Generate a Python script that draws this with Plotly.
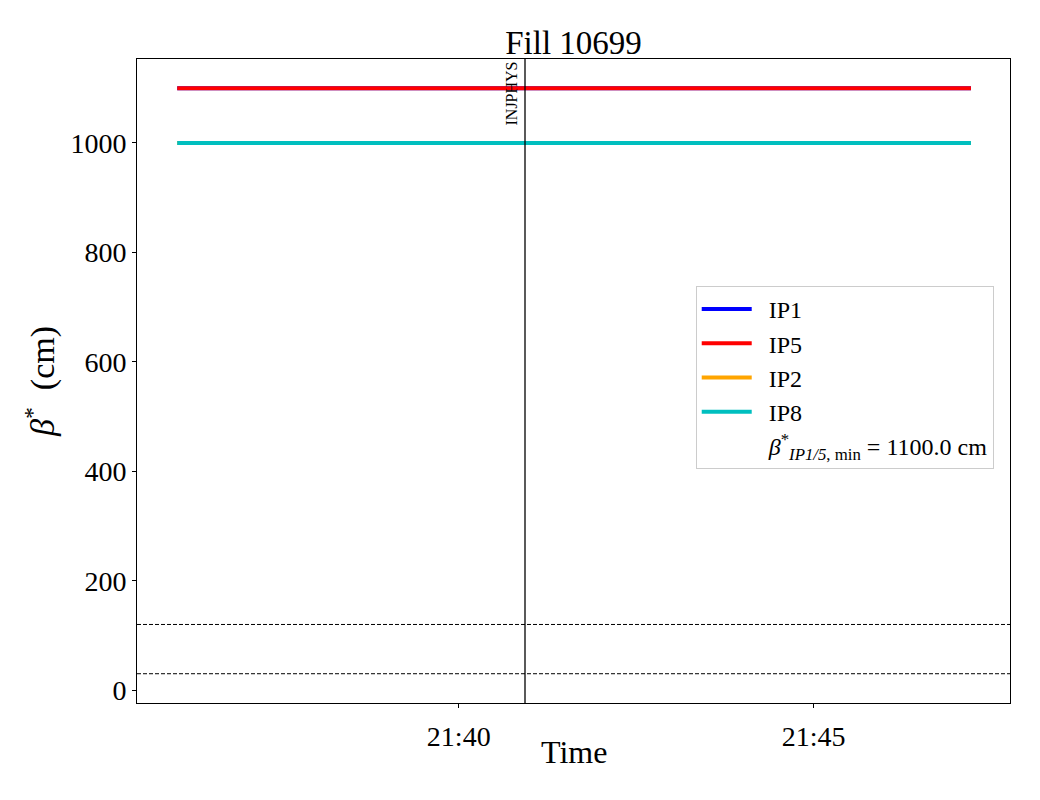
import plotly.graph_objects as go

# Data
times = ["2025-06-01 21:36:02", "2025-06-01 21:47:13"]
ip1 = [1100, 1100]
ip5 = [1100, 1100]
ip2 = [1000, 1000]
ip8 = [1000, 1000]
series_names = ["IP1", "IP5", "IP2", "IP8"]
series_values = [ip1, ip5, ip2, ip8]
series_colors = ["#0000ff", "#ff0000", "#ffa500", "#00bfbf"]
hlines = [120, 30]
mode_time = "2025-06-01 21:40:56"
mode_label = "INJPHYS"
xrange_ = ["2025-06-01 21:35:28", "2025-06-01 21:47:46"]
yrange_ = [-23.5, 1153.5]
tickvals = ["2025-06-01 21:40:00", "2025-06-01 21:45:00"]
ticktext = ["21:40", "21:45"]
yticks = [0, 200, 400, 600, 800, 1000]

FONT = "Liberation Serif"
PAD = "&nbsp;&nbsp;"

fig = go.Figure()
for name, vals, col in zip(series_names, series_values, series_colors):
    fig.add_trace(go.Scatter(x=times, y=vals, mode="lines", name=PAD + name,
                             line=dict(color=col, width=4)))
fig.add_trace(go.Scatter(x=[times[0]], y=[None], mode="lines",
                         name=PAD + "<i>β</i><sup>*</sup><sub><i>IP1/5</i>, min</sub> = 1100.0 cm",
                         line=dict(color="rgba(0,0,0,0)", width=0)))

for h in hlines:
    fig.add_shape(type="line", xref="paper", x0=0, x1=1, yref="y", y0=h, y1=h,
                  line=dict(color="black", width=1, dash="4px,2px"))
fig.add_shape(type="line", xref="x", x0=mode_time, x1=mode_time, yref="paper", y0=0, y1=1,
              line=dict(color="black", width=1.3))
fig.add_annotation(x=mode_time, y=1, xref="x", yref="paper", text=mode_label,
                   textangle=-90, showarrow=False, xanchor="right", yanchor="top",
                   xshift=-4, yshift=-1, font=dict(family=FONT, size=16, color="black"))
fig.add_annotation(x=0.5, y=-0.0761, xref="paper", yref="paper", text="Time",
                   showarrow=False, xanchor="center", yanchor="middle",
                   font=dict(family=FONT, size=32, color="black"))

fig.update_layout(
    width=1040, height=800,
    margin=dict(l=129, r=38, t=51, b=105),
    paper_bgcolor="white", plot_bgcolor="white",
    font=dict(family=FONT, color="black"),
    title=dict(text="Fill 10699", x=0.5, xref="paper", xanchor="center",
               y=1 - 34 / 800, yanchor="middle", font=dict(family=FONT, size=33)),
    showlegend=True,
    legend=dict(x=0.640, y=0.6475, xanchor="left", yanchor="top",
                bordercolor="#cccccc", borderwidth=1, bgcolor="white",
                font=dict(family=FONT, size=24), tracegroupgap=0, itemwidth=50),
    xaxis=dict(range=xrange_, type="date", tickvals=tickvals, ticktext=ticktext,
               showgrid=False, zeroline=False, showline=True, mirror=True,
               linecolor="black", linewidth=1, ticks="outside", ticklen=4,
               tickcolor="black", tickfont=dict(family=FONT, size=28),
               ticklabelstandoff=4),
    yaxis=dict(range=yrange_, tickvals=yticks, showgrid=False, zeroline=False,
               showline=True, mirror=True, linecolor="black", linewidth=1,
               ticks="outside", ticklen=4, tickcolor="black",
               tickfont=dict(family=FONT, size=28),
               title=dict(text="<i>β</i><sup>*</sup>  (cm)", font=dict(family=FONT, size=34), standoff=5)),
)

fig.write_html("out.html")
